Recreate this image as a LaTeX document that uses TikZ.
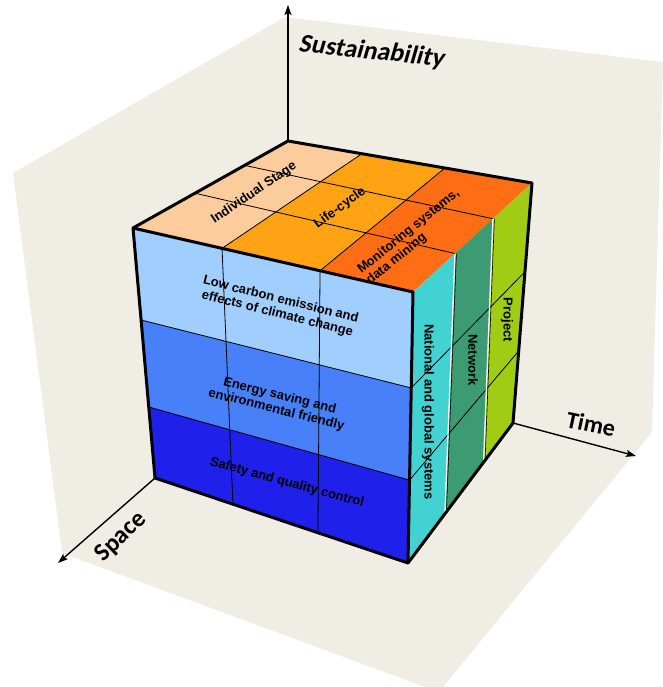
\documentclass[tikz,border=0pt]{standalone}
\usepackage{fontspec}
\setmainfont{Liberation Sans}
\newfontfamily\axisfont{Carlito}
\newfontfamily\susfont{Carlito}[FakeSlant=0.18]
\usetikzlibrary{calc,arrows.meta}
\definecolor{wall}{RGB}{240,238,228}
\definecolor{peach}{RGB}{253,204,156}
\definecolor{orangeA}{RGB}{255,162,20}
\definecolor{redorange}{RGB}{255,110,20}
\definecolor{lightblue}{RGB}{160,206,255}
\definecolor{midblue}{RGB}{72,128,250}
\definecolor{darkblue}{RGB}{32,32,235}
\definecolor{cyanF}{RGB}{66,210,210}
\definecolor{greenF}{RGB}{60,155,115}
\definecolor{lime}{RGB}{160,205,20}
\begin{document}
\begin{tikzpicture}[x=1pt,y=-1pt,
  gridline/.style={black, line width=0.8pt},
  cubeedge/.style={black, line width=3pt, line join=round},
  axisline/.style={black, line width=1.4pt, -{Stealth[length=10pt,width=7pt,inset=2pt]}},
  axislabel/.style={font=\axisfont\bfseries\fontsize{26}{28}\selectfont, inner sep=0pt},
  cubelabel/.style={font=\bfseries\fontsize{13}{14.5}\selectfont, align=center, inner sep=0pt},
  toplabel/.style={font=\bfseries\fontsize{13}{14}\selectfont, inner sep=0pt}]
\useasboundingbox (0,0) rectangle (662,687);
% walls and floor
\fill[wall] (13,173) -- (285,17) -- (663,62) -- (652,432) -- (443,687) -- (425,687) -- (62,553) -- cycle;
% cube corners
\coordinate (L) at (133,228);
\coordinate (B) at (288,141);
\coordinate (R) at (532,183);
\coordinate (F) at (413,292);
\coordinate (Lb) at (155,478);
\coordinate (Fb) at (408,563);
\coordinate (Rb) at (513,423);
% axis ends
\coordinate (Stop) at (288,5);
\coordinate (Tend) at (636,456);
\coordinate (Send) at (58,563);
% band points
\coordinate (a1) at ($(L)!0.368!(Lb)$);
\coordinate (a2) at ($(L)!0.716!(Lb)$);
\coordinate (b1) at ($(F)!0.354!(Fb)$);
\coordinate (b2) at ($(F)!0.694!(Fb)$);
\coordinate (c1) at ($(R)!0.37!(Rb)$);
\coordinate (c2) at ($(R)!0.70!(Rb)$);
\coordinate (t1) at ($(L)!0.318!(F)$);
\coordinate (t2) at ($(L)!0.668!(F)$);
\coordinate (u1) at ($(Lb)!0.308!(Fb)$);
\coordinate (u2) at ($(Lb)!0.644!(Fb)$);
\coordinate (p1) at ($(B)!0.303!(R)$);
\coordinate (p2) at ($(B)!0.643!(R)$);
\coordinate (q1) at ($(L)!0.40!(B)$);
\coordinate (q2) at ($(L)!0.72!(B)$);
\coordinate (r1) at ($(F)!0.353!(R)$);
\coordinate (r2) at ($(F)!0.672!(R)$);
\coordinate (s1) at ($(Fb)!0.352!(Rb)$);
\coordinate (s2) at ($(Fb)!0.72!(Rb)$);
% axes
\draw[axisline] (B) -- (Stop);
\draw[axisline] (Rb) -- (Tend);
\draw[axisline] (Lb) -- (Send);
% top face
\fill[peach] (L) -- (B) -- (p1) -- (t1) -- cycle;
\fill[orangeA] (t1) -- (p1) -- (p2) -- (t2) -- cycle;
\fill[redorange] (t2) -- (p2) -- (R) -- (F) -- cycle;
% front face
\fill[lightblue] (L) -- (F) -- (b1) -- (a1) -- cycle;
\fill[midblue] (a1) -- (b1) -- (b2) -- (a2) -- cycle;
\fill[darkblue] (a2) -- (b2) -- (Fb) -- (Lb) -- cycle;
% right face
\fill[cyanF] (F) -- (r1) -- (s1) -- (Fb) -- cycle;
\fill[greenF] (r1) -- (r2) -- (s2) -- (s1) -- cycle;
\fill[lime] (r2) -- (R) -- (Rb) -- (s2) -- cycle;
% grid lines
\draw[gridline] (a1) -- (b1) -- (c1);
\draw[gridline] (a2) -- (b2) -- (c2);
\draw[gridline] (t1) -- (u1);
\draw[gridline] (t2) -- (u2);
\draw[gridline] (t1) -- (p1);
\draw[gridline] (t2) -- (p2);
\draw[gridline] (q1) -- (r1);
\draw[gridline] (q2) -- (r2);
\draw[white, line width=1.3pt] (r1) -- (s1);
\draw[white, line width=1.3pt] (r2) -- (s2);
\draw[black, line width=0.6pt] ([xshift=1.4pt]r1) -- ([xshift=1.4pt]s1);
\draw[black, line width=0.6pt] ([xshift=1.4pt]r2) -- ([xshift=1.4pt]s2);
% cube edges
\draw[cubeedge] (L) -- (B) -- (R) -- (Rb) -- (Fb) -- (Lb) -- cycle;
\draw[cubeedge] (L) -- (F) -- (Fb);
% labels on cube
\node[toplabel, rotate=34] (ind) at (254,193) {Individual Stage};
\node[toplabel, rotate=36] (life) at (340,208) {Life-cycle};
\node[toplabel, rotate=39, align=left] (mon) at (413,237) {Monitoring systems,\\data mining};
\node[cubelabel, rotate=-14] (lowc) at (279,307) {Low carbon emission and\\effects of climate change};
\node[cubelabel, rotate=-14] (energy) at (278,403) {Energy saving and\\environmental friendly};
\node[cubelabel, rotate=-15] (safety) at (287,483) {Safety and quality control};
\node[cubelabel, rotate=-90] (nat) at (428,412) {National and global systems};
\node[cubelabel, rotate=-90] (net) at (473,360) {Network};
\node[cubelabel, rotate=-90] (proj) at (507,320) {Project};
% axis labels
\node[font=\susfont\bfseries\fontsize{26}{28}\selectfont, inner sep=0pt, rotate=-6] (sus) at (371,52) {Sustainability};
\node[axislabel, rotate=-12, font=\axisfont\bfseries\fontsize{24}{26}\selectfont] (time) at (591,424) {Time};
\node[axislabel, rotate=44, font=\axisfont\bfseries\fontsize{25}{27}\selectfont] (space) at (121,537) {Space};
\end{tikzpicture}
\end{document}
